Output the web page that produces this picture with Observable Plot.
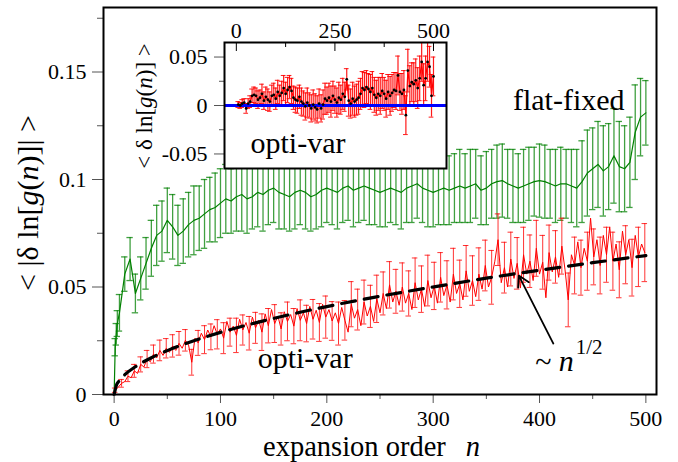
<!DOCTYPE html>
<html>
<head>
<meta charset="utf-8">
<script src="https://cdn.jsdelivr.net/npm/d3@7"></script>
<script src="https://cdn.jsdelivr.net/npm/@observablehq/plot@0.6"></script>
<style>
  html, body { margin: 0; padding: 0; background: white; }
  #chart { position: relative; width: 678px; height: 462px; overflow: hidden; }
  #chart svg { position: absolute; left: 0; top: 0; }
</style>
</head>
<body>
<div id="chart"></div>
<script>
// ---------- main panel: flat-fixed (green) ----------
const greenN = [0,1,2,3,5,10,15,20,25,30,35,40,45,50,55,60,65,70,75,80,85,90,95,100,
  105,110,115,120,125,130,135,140,145,150,155,160,165,170,175,180,185,190,195,200,
  205,210,215,220,225,230,235,240,245,250,255,260,265,270,275,280,285,290,295,300,
  305,310,315,320,325,330,335,340,345,350,355,360,365,370,375,380,385,390,395,400,
  405,410,415,420,425,430,435,440,445,450,455,460,465,470,475,480,485,490,495,500];
const greenY = [0,0.022,0.028,0.033,
  0.038,0.056,0.063,0.047,0.054,0.061,0.068,0.074,0.076,0.081,
  0.078,0.074,0.076,0.079,0.081,0.082,0.084,0.086,0.087,0.089,
  0.091,0.090,0.092,0.093,0.091,0.092,0.094,0.093,0.095,0.096,
  0.094,0.093,0.092,0.094,0.095,0.094,0.092,0.093,0.095,0.096,
  0.095,0.094,0.096,0.097,0.095,0.096,0.097,0.096,0.095,0.094,
  0.095,0.096,0.095,0.094,0.096,0.097,0.098,0.096,0.095,0.094,
  0.095,0.096,0.095,0.096,0.097,0.096,0.097,0.098,0.095,0.096,
  0.098,0.099,0.0995,0.098,0.097,0.096,0.097,0.098,0.099,0.0995,
  0.099,0.098,0.097,0.098,0.098,0.097,0.096,0.099,0.103,0.105,
  0.107,0.104,0.106,0.111,0.106,0.105,0.108,0.122,0.129,0.131];
const greenErr = [0,0.004,0.005,0.006,
  0.0085,0.008,0.010,0.009,0.010,0.012,0.013,0.014,0.014,0.015,
  0.015,0.014,0.015,0.015,0.016,0.015,0.016,0.015,0.016,0.016,
  0.016,0.015,0.016,0.017,0.016,0.015,0.016,0.017,0.016,0.016,
  0.017,0.016,0.016,0.017,0.016,0.017,0.016,0.016,0.017,0.016,
  0.016,0.017,0.016,0.016,0.017,0.016,0.016,0.017,0.016,0.016,
  0.017,0.016,0.016,0.017,0.016,0.017,0.016,0.016,0.017,0.016,
  0.016,0.017,0.016,0.016,0.017,0.016,0.017,0.016,0.016,0.017,
  0.016,0.017,0.017,0.016,0.017,0.016,0.017,0.017,0.016,0.017,
  0.017,0.016,0.017,0.017,0.016,0.017,0.018,0.019,0.020,0.019,
  0.020,0.021,0.020,0.022,0.021,0.020,0.021,0.022,0.018,0.015];

// ---------- main panel: opti-var (red) ----------
const redN = [1,4,7,10,13,16,19,22,25,28,31,34,37,40,43,46,49,52,55,58,61,64,67,70,73,76,79,82,85,88,
  91,94,97,100,103,106,109,112,115,118,121,124,127,130,133,136,139,142,145,148,151,154,157,160,163,166,169,172,175,178,
  181,184,187,190,193,196,199,202,205,208,211,214,217,220,223,226,229,232,235,238,241,244,247,250,253,256,259,262,265,268,
  271,274,277,280,283,286,289,292,295,298,301,304,307,310,313,316,319,322,325,328,331,334,337,340,343,346,349,352,355,358,
  361,364,367,370,373,376,379,382,385,388,391,394,397,400,403,406,409,412,415,418,421,424,427,430,433,436,439,442,445,448,
  451,454,457,460,463,466,469,472,475,478,481,484,487,490,493,496,499];
const redY = [
  0.0020,0.0035,0.0052,0.0060,0.0085,0.0078,0.0110,0.0098,0.0140,0.0128,
  0.0165,0.0152,0.0188,0.0170,0.0205,0.0182,0.0215,0.0196,0.0226,0.0205,
  0.0238,0.0215,0.0252,0.0230,0.0150,0.0262,0.0240,0.0285,0.0255,0.0300,
  0.0268,0.0320,0.0280,0.0305,0.0262,0.0340,0.0290,0.0318,0.0275,0.0350,
  0.0300,0.0335,0.0285,0.0360,0.0310,0.0345,0.0290,0.0375,0.0320,0.0395,
  0.0330,0.0365,0.0305,0.0385,0.0340,0.0372,0.0318,0.0400,0.0345,0.0380,
  0.0330,0.0410,0.0350,0.0392,0.0335,0.0420,0.0360,0.0395,0.0342,0.0380,
  0.0330,0.0405,0.0345,0.0290,0.0420,0.0355,0.0395,0.0320,0.0430,0.0365,
  0.0410,0.0340,0.0445,0.0380,0.0470,0.0400,0.0510,0.0430,0.0480,0.0415,
  0.0500,0.0425,0.0470,0.0395,0.0520,0.0440,0.0490,0.0410,0.0530,0.0450,
  0.0505,0.0425,0.0545,0.0460,0.0510,0.0430,0.0560,0.0470,0.0515,0.0440,
  0.0575,0.0480,0.0530,0.0455,0.0560,0.0490,0.0600,0.0500,0.0545,0.0620,
  0.0720,0.0520,0.0590,0.0500,0.0630,0.0540,0.0610,0.0495,0.0650,0.0560,
  0.0620,0.0530,0.0680,0.0560,0.0615,0.0450,0.0660,0.0570,0.0640,0.0545,
  0.0690,0.0580,0.0440,0.0650,0.0600,0.0710,0.0590,0.0680,0.0620,0.0820,
  0.0640,0.0720,0.0600,0.0740,0.0650,0.0780,0.0620,0.0700,0.0580,0.0760,
  0.0650,0.0720,0.0590,0.0740,0.0640,0.0700,0.0660];
// error half-widths for every second red point (n = 1, 7, 13, ..., 499)
const redErr = [
  0.0010,0.0018,0.0025,0.0030,0.0035,0.0040,0.0042,0.0048,0.0045,0.0052,
  0.0055,0.0050,0.0060,0.0058,0.0065,0.0060,0.0068,0.0072,0.0065,0.0080,
  0.0070,0.0078,0.0072,0.0085,0.0080,0.0088,0.0075,0.0090,0.0082,0.0095,
  0.0085,0.0092,0.0088,0.0098,0.0090,0.0100,0.0092,0.0105,0.0095,0.0102,
  0.0098,0.0110,0.0100,0.0108,0.0102,0.0112,0.0105,0.0115,0.0108,0.0118,
  0.0110,0.0115,0.0112,0.0120,0.0110,0.0118,0.0115,0.0122,0.0118,0.0125,
  0.0120,0.0118,0.0125,0.0120,0.0128,0.0122,0.0130,0.0125,0.0128,0.0122,
  0.0130,0.0125,0.0132,0.0128,0.0135,0.0130,0.0132,0.0128,0.0135,0.0130,
  0.0135,0.0132,0.0138,0.0135];

// ~ n^(1/2) fit
const fitN = [0,2,5,10,20,35,50,75,100,150,200,250,300,350,400,450,500];
const fitY = [0,0.0041,0.0065,0.0092,0.0129,0.0171,0.0204,0.0250,0.0289,0.0354,0.0409,0.0457,0.0500,0.0541,0.0578,0.0613,0.0646];

// ---------- inset: signed mean, opti-var ----------
const insetN = [5,10,15,20,25,30,35,40,45,50,55,60,65,70,75,80,85,90,95,100,
  105,110,115,120,125,130,135,140,145,150,155,160,165,170,175,180,185,190,195,200,
  205,210,215,220,225,230,235,240,245,250,255,260,265,270,275,280,285,290,295,300,
  305,310,315,320,325,330,335,340,345,350,355,360,365,370,375,380,385,390,395,400,
  405,410,415,420,425,430,435,440,445,450,455,460,465,470,475,480,485,490,495,500];
const insetY = [
  0.001,0.000,0.002,0.003,-0.003,0.002,0.004,0.010,0.011,0.010,
  0.006,0.008,0.012,0.005,0.009,0.006,0.004,0.010,0.011,0.007,
  0.014,0.010,0.013,0.018,0.012,0.016,0.019,0.015,0.008,0.006,
  0.005,0.009,0.004,0.002,-0.001,0.003,0.000,-0.003,0.001,-0.002,
  -0.004,0.002,-0.003,0.001,0.007,0.005,0.008,0.004,0.010,0.006,
  0.003,0.008,0.006,0.012,0.009,0.027,0.005,0.002,0.007,0.004,
  0.006,0.008,0.012,0.018,0.016,0.019,0.017,0.014,0.018,0.011,
  0.008,0.012,0.010,0.015,0.012,0.007,0.014,0.010,0.013,0.016,
  0.015,0.031,0.014,0.012,0.016,-0.010,0.036,0.020,0.024,0.022,
  0.026,0.018,0.028,0.045,0.021,0.028,0.045,0.040,0.010,0.030];
const insetErr = [
  0.003,0.003,0.004,0.004,0.005,0.005,0.006,0.007,0.008,0.008,
  0.009,0.008,0.010,0.009,0.010,0.011,0.010,0.011,0.012,0.011,
  0.012,0.011,0.012,0.013,0.012,0.013,0.012,0.013,0.012,0.013,
  0.013,0.012,0.014,0.013,0.014,0.015,0.013,0.014,0.015,0.014,
  0.014,0.015,0.014,0.015,0.016,0.014,0.015,0.016,0.015,0.014,
  0.015,0.016,0.015,0.016,0.015,0.011,0.016,0.015,0.017,0.016,
  0.016,0.017,0.016,0.017,0.018,0.017,0.016,0.018,0.017,0.018,
  0.018,0.017,0.019,0.018,0.017,0.019,0.018,0.020,0.019,0.018,
  0.019,0.020,0.019,0.021,0.020,0.020,0.022,0.021,0.020,0.022,
  0.022,0.021,0.023,0.020,0.022,0.023,0.020,0.021,0.022,0.020];

// tick values
const mainXTicks = [0,100,200,300,400,500];
const mainXMinor = [50,150,250,350,450];
const mainYTicks = [0,0.05,0.1,0.15];
const mainYMinor = [0.025,0.075,0.125,0.175];
const insetXTicks = [0,250,500];
const insetXMinor = [125,375];
const insetYTicks = [-0.05,0,0.05];
const insetYMinor = [-0.025,0.025];

// ---------- build tables ----------
const green = greenN.map((n, i) => ({n, y: greenY[i], e: greenErr[i]}));
const greenBars = green.filter(d => d.e > 0);
const red = redN.map((n, i) => ({n, y: redY[i]}));
const redBars = red.filter((d, i) => i % 2 === 0).map((d, j) => ({...d, e: redErr[j]}));
const fit = fitN.map((n, i) => ({n, y: fitY[i]}));
const inset = insetN.map((n, i) => ({n, y: insetY[i], e: insetErr[i]}));

const FONT = "'Liberation Serif', 'Times New Roman', Times, serif";
const GREEN = "#008000", RED = "#ff0000", TICK = "#555";

const fmt = d => String(d);

const mainSvg = Plot.plot({
  width: 678, height: 462,
  marginLeft: 103, marginRight: 22, marginTop: 7, marginBottom: 68,
  x: {domain: [-10, 510]},
  y: {domain: [0, 0.18]},
  style: {fontFamily: FONT, fontSize: "22px", background: "transparent", color: "black"},
  marks: [
    // green error bars
    Plot.ruleX(greenBars, {x: "n", y1: d => d.y - d.e, y2: d => d.y + d.e, stroke: GREEN, strokeOpacity: 0.75, strokeWidth: 1.3}),
    Plot.ruleY(greenBars, {y: d => d.y + d.e, x1: d => d.n - 3, x2: d => d.n + 3, stroke: GREEN, strokeOpacity: 0.75, strokeWidth: 1.3}),
    Plot.ruleY(greenBars, {y: d => d.y - d.e, x1: d => d.n - 3, x2: d => d.n + 3, stroke: GREEN, strokeOpacity: 0.75, strokeWidth: 1.3}),
    Plot.line(green, {x: "n", y: "y", stroke: GREEN, strokeWidth: 1.2}),
    // red error bars
    Plot.ruleX(redBars, {x: "n", y1: d => d.y - d.e, y2: d => d.y + d.e, stroke: RED, strokeOpacity: 0.8, strokeWidth: 1}),
    Plot.ruleY(redBars, {y: d => d.y + d.e, x1: d => d.n - 2.6, x2: d => d.n + 2.6, stroke: RED, strokeOpacity: 0.8, strokeWidth: 1}),
    Plot.ruleY(redBars, {y: d => d.y - d.e, x1: d => d.n - 2.6, x2: d => d.n + 2.6, stroke: RED, strokeOpacity: 0.8, strokeWidth: 1}),
    Plot.line(red, {x: "n", y: "y", stroke: RED, strokeWidth: 1}),
    // fit
    Plot.line(fit, {x: "n", y: "y", stroke: "black", strokeWidth: 3.2, strokeDasharray: "14,9", curve: "monotone-x"}),
    // annotations
    Plot.text(["flat-fixed"], {x: 375, y: 0.1366, text: d => d, textAnchor: "start", fontSize: 30}),
    Plot.text(["opti-var"], {x: 135, y: 0.0166, text: d => d, textAnchor: "start", fontSize: 30}),
    Plot.text(["~"], {x: 396, y: 0.0150, text: d => d, textAnchor: "start", fontSize: 30}),
    Plot.text(["n"], {x: 418, y: 0.0156, text: d => d, textAnchor: "start", fontSize: 30, fontStyle: "italic"}),
    Plot.text(["1/2"], {x: 434, y: 0.0222, text: d => d, textAnchor: "start", fontSize: 21}),
    Plot.arrow([0], {x1: 413, y1: 0.0237, x2: 380.5, y2: 0.0553, stroke: "black", strokeWidth: 1.8, headLength: 10, bend: 0}),
    // axes
    Plot.axisX(mainXTicks, {tickSize: 9, tickPadding: 7, tickFormat: fmt, label: null, stroke: TICK, fill: "black"}),
    Plot.axisX(mainXMinor, {tickSize: 5, tickFormat: () => "", label: null, stroke: TICK}),
    Plot.axisY(mainYTicks, {tickSize: 11, tickPadding: 6, tickFormat: fmt, label: null, stroke: TICK, fill: "black"}),
    Plot.axisY(mainYMinor, {tickSize: 6, tickFormat: () => "", label: null, stroke: TICK}),
    Plot.frame({stroke: "black", strokeWidth: 2})
  ]
});

const insetSvg = Plot.plot({
  width: 678, height: 462,
  marginLeft: 224, marginRight: 232, marginTop: 42, marginBottom: 294,
  x: {domain: [-30, 533]},
  y: {domain: [-0.065, 0.065]},
  style: {fontFamily: FONT, fontSize: "22px", background: "transparent", color: "black"},
  marks: [
    Plot.frame({fill: "white", stroke: null}),
    Plot.ruleX(inset, {x: "n", y1: d => d.y - d.e, y2: d => d.y + d.e, stroke: RED, strokeOpacity: 0.9, strokeWidth: 1.2, clip: true}),
    Plot.ruleY(inset, {y: d => d.y + d.e, x1: d => d.n - 6, x2: d => d.n + 6, stroke: RED, strokeOpacity: 0.9, strokeWidth: 1, clip: true}),
    Plot.ruleY(inset, {y: d => d.y - d.e, x1: d => d.n - 6, x2: d => d.n + 6, stroke: RED, strokeOpacity: 0.9, strokeWidth: 1, clip: true}),
    Plot.line(inset, {x: "n", y: "y", stroke: RED, strokeWidth: 1.2}),
    Plot.ruleY([0], {stroke: "#0000ff", strokeWidth: 3}),
    Plot.dot(inset, {x: "n", y: "y", r: 1.4, fill: "black", stroke: null}),
    Plot.text(["opti-var"], {x: 36, y: -0.0386, text: d => d, textAnchor: "start", fontSize: 30}),
    // ticks (x ticks point inward from the top edge)
    Plot.tickX(insetXTicks, {x: d => d, insetBottom: 117, stroke: "black"}),
    Plot.tickX(insetXMinor, {x: d => d, insetBottom: 121, stroke: "black"}),
    Plot.axisX(insetXTicks, {anchor: "top", tickSize: 0, tickPadding: 5, tickFormat: fmt, label: null}),
    Plot.axisY(insetYTicks, {tickSize: 10, tickPadding: 7, tickFormat: fmt, label: null, stroke: TICK, fill: "black"}),
    Plot.axisY(insetYMinor, {tickSize: 5, tickFormat: () => "", label: null, stroke: TICK}),
    Plot.frame({stroke: "black", strokeWidth: 2})
  ]
});

const chart = document.getElementById("chart");
chart.append(mainSvg, insetSvg);

// axis titles with italic parts
function addLabel(svg, {x, y, rotate = 0, size, anchor = "middle", parts}) {
  const t = d3.select(svg).append("text")
    .attr("transform", `translate(${x},${y}) rotate(${rotate})`)
    .attr("text-anchor", anchor)
    .attr("font-family", FONT)
    .attr("font-size", size)
    .attr("fill", "black");
  for (const p of parts) {
    const s = t.append("tspan").text(p.t);
    if (p.i) s.attr("font-style", "italic");
    if (p.dx) s.attr("dx", p.dx);
  }
}
addLabel(mainSvg, {x: 263, y: 456, size: 28.5, anchor: "start",
  parts: [{t: "expansion order"}, {t: "n", i: true, dx: 20}]});
addLabel(mainSvg, {x: 38, y: 203, rotate: -90, size: 30,
  parts: [{t: "< |δ ln["}, {t: "g", i: true}, {t: "("}, {t: "n", i: true}, {t: ")]| >"}]});
addLabel(insetSvg, {x: 152, y: 106, rotate: -90, size: 23,
  parts: [{t: "< δ ln["}, {t: "g", i: true}, {t: "("}, {t: "n", i: true}, {t: ")] >"}]});
</script>
</body>
</html>
